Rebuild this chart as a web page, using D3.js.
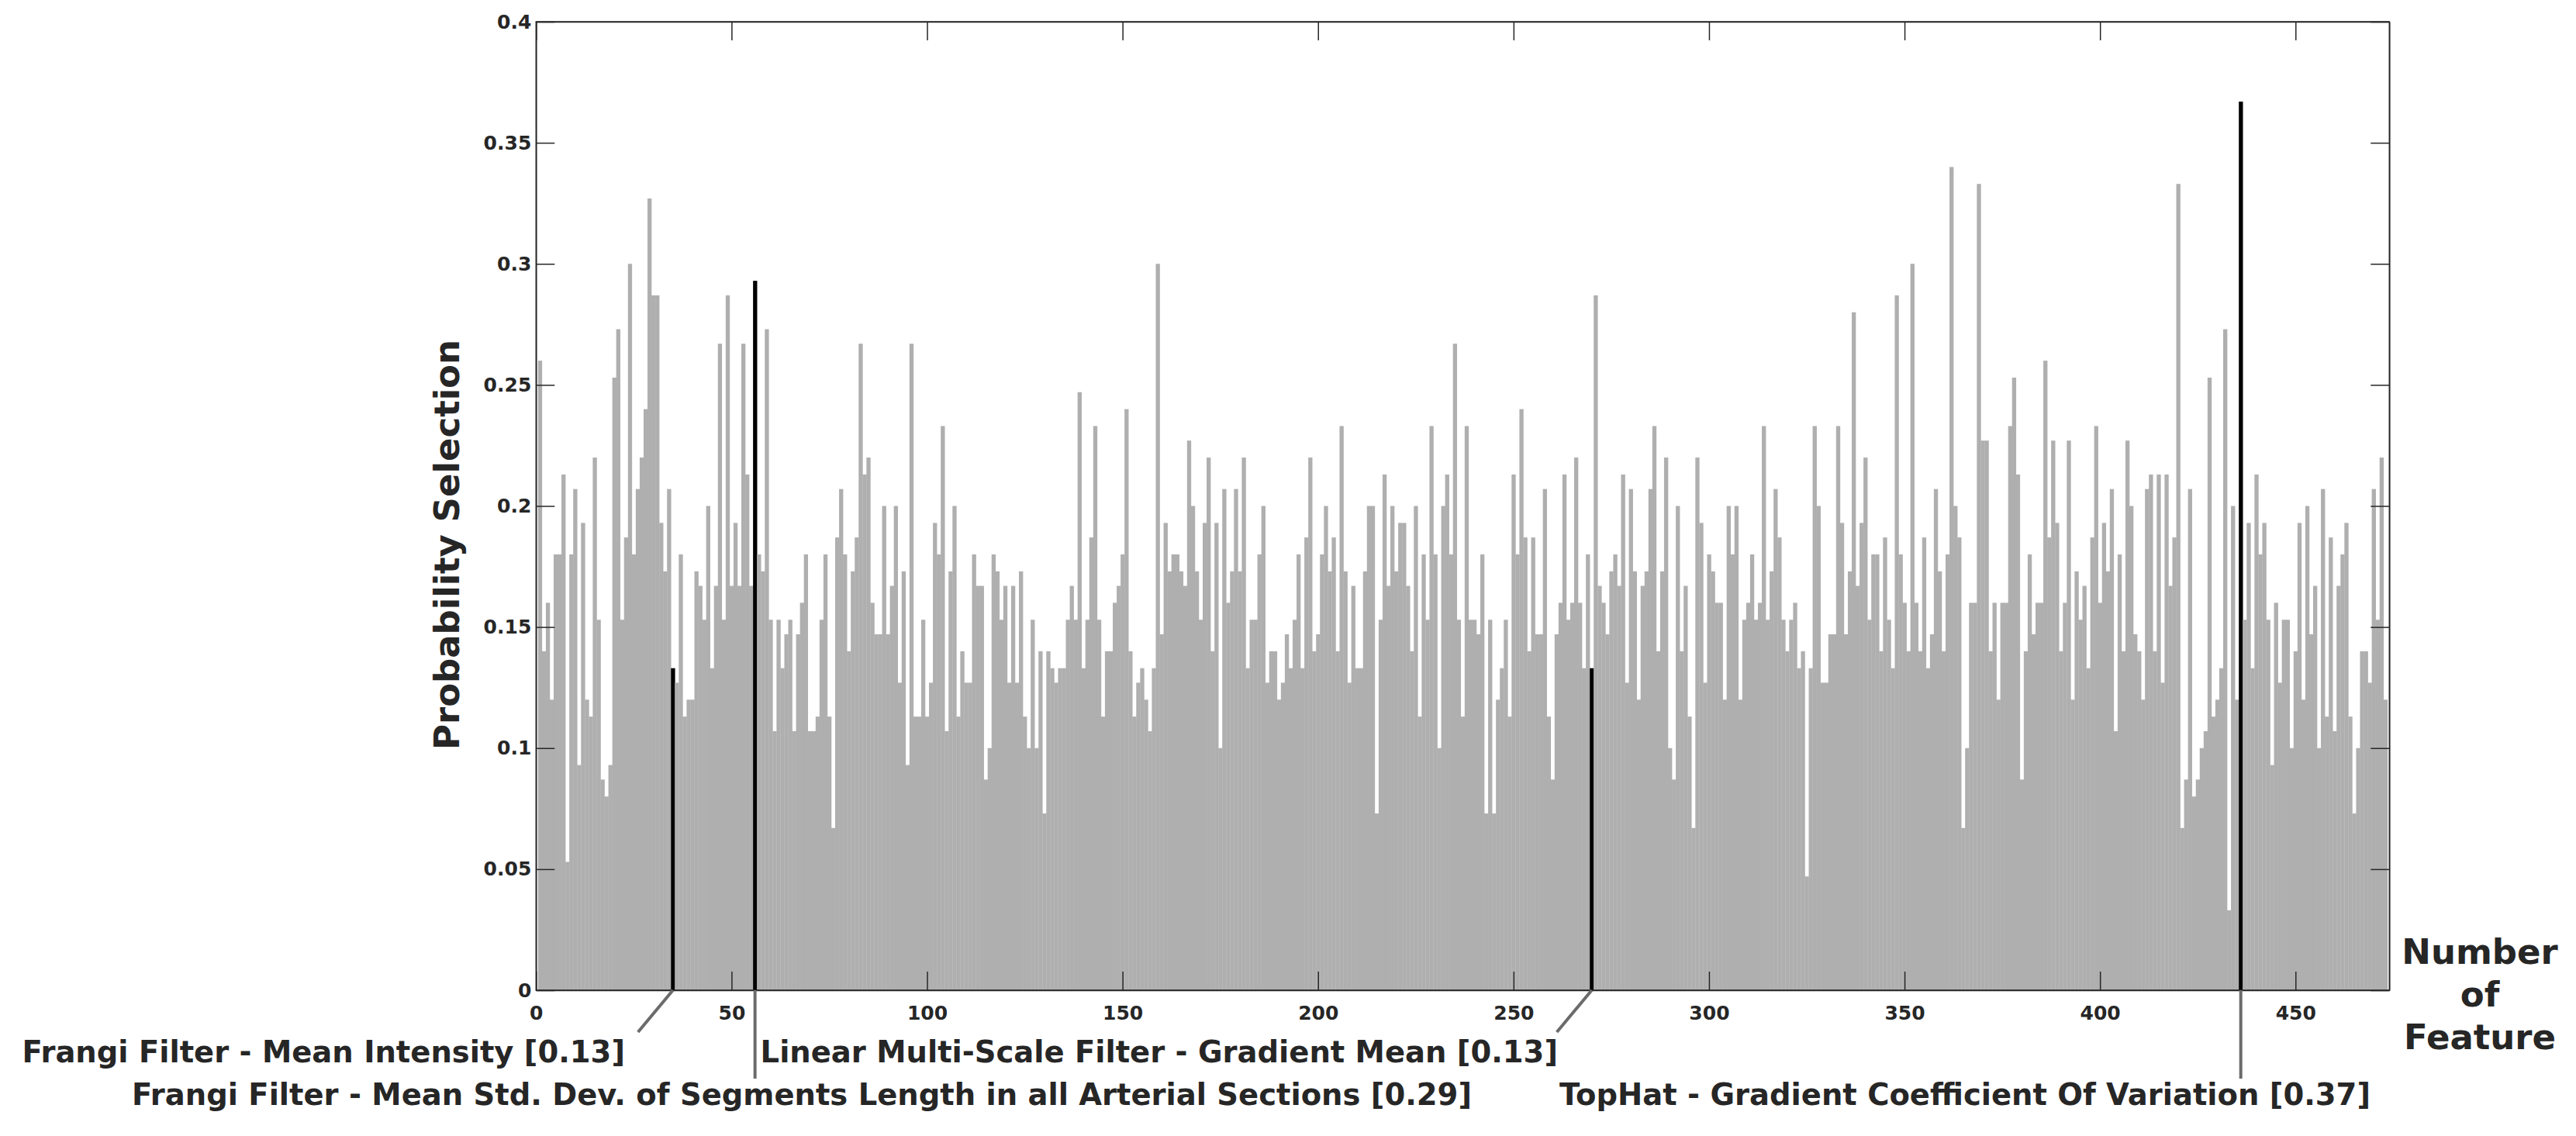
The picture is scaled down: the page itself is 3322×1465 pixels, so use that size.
<!DOCTYPE html>
<html>
<head>
<meta charset="utf-8">
<script src="https://cdn.jsdelivr.net/npm/d3@7"></script>
<style>
html,body{margin:0;padding:0;background:#fff;}
svg{display:block;font-family:"DejaVu Sans",sans-serif;font-weight:bold;}
</style>
</head>
<body>
<svg id="chart" width="3322" height="1465"></svg>
<script>
// ---- data ----
const probability = [
0.260,0.140,0.160,0.120,0.180,0.180,0.213,0.053,0.180,0.207,
0.093,0.193,0.120,0.113,0.220,0.153,0.087,0.080,0.093,0.253,
0.273,0.153,0.187,0.300,0.180,0.207,0.220,0.240,0.327,0.287,
0.287,0.193,0.173,0.207,0.133,0.127,0.180,0.113,0.120,0.120,
0.173,0.167,0.153,0.200,0.133,0.167,0.267,0.153,0.287,0.167,
0.193,0.167,0.267,0.213,0.167,0.293,0.180,0.173,0.273,0.153,
0.107,0.153,0.133,0.147,0.153,0.107,0.147,0.160,0.180,0.107,
0.107,0.113,0.153,0.180,0.113,0.067,0.187,0.207,0.180,0.140,
0.173,0.187,0.267,0.213,0.220,0.160,0.147,0.147,0.200,0.147,
0.167,0.200,0.127,0.173,0.093,0.267,0.113,0.113,0.153,0.113,
0.127,0.193,0.180,0.233,0.107,0.173,0.200,0.113,0.140,0.127,
0.127,0.180,0.167,0.167,0.087,0.100,0.180,0.173,0.153,0.167,
0.127,0.167,0.127,0.173,0.113,0.100,0.153,0.100,0.140,0.073,
0.140,0.133,0.127,0.133,0.133,0.153,0.167,0.153,0.247,0.133,
0.153,0.187,0.233,0.153,0.113,0.140,0.140,0.160,0.167,0.180,
0.240,0.140,0.113,0.127,0.133,0.120,0.107,0.133,0.300,0.147,
0.193,0.173,0.180,0.180,0.173,0.167,0.227,0.200,0.173,0.153,
0.193,0.220,0.140,0.193,0.100,0.207,0.160,0.173,0.207,0.173,
0.220,0.133,0.153,0.153,0.180,0.200,0.127,0.140,0.140,0.120,
0.127,0.147,0.133,0.153,0.180,0.133,0.187,0.220,0.140,0.147,
0.180,0.200,0.173,0.187,0.140,0.233,0.173,0.127,0.167,0.133,
0.133,0.173,0.200,0.200,0.073,0.153,0.213,0.167,0.200,0.173,
0.193,0.193,0.167,0.140,0.200,0.113,0.180,0.153,0.233,0.180,
0.100,0.200,0.213,0.180,0.267,0.153,0.113,0.233,0.153,0.153,
0.147,0.180,0.073,0.153,0.073,0.120,0.133,0.153,0.113,0.213,
0.180,0.240,0.187,0.140,0.187,0.147,0.147,0.207,0.113,0.087,
0.147,0.160,0.213,0.153,0.160,0.220,0.160,0.133,0.180,0.133,
0.287,0.167,0.160,0.147,0.173,0.180,0.167,0.213,0.127,0.207,
0.173,0.120,0.167,0.173,0.207,0.233,0.140,0.173,0.220,0.100,
0.087,0.200,0.140,0.167,0.113,0.067,0.220,0.193,0.127,0.180,
0.173,0.160,0.160,0.120,0.200,0.180,0.200,0.120,0.153,0.160,
0.180,0.153,0.160,0.233,0.153,0.173,0.207,0.187,0.153,0.140,
0.153,0.160,0.133,0.140,0.047,0.133,0.233,0.200,0.127,0.127,
0.147,0.147,0.233,0.193,0.147,0.173,0.280,0.167,0.193,0.220,
0.153,0.180,0.180,0.140,0.187,0.153,0.133,0.287,0.180,0.160,
0.140,0.300,0.160,0.140,0.187,0.133,0.147,0.207,0.173,0.140,
0.180,0.340,0.200,0.187,0.067,0.100,0.160,0.160,0.333,0.227,
0.227,0.140,0.160,0.120,0.160,0.160,0.233,0.253,0.213,0.087,
0.140,0.180,0.147,0.160,0.160,0.260,0.187,0.227,0.193,0.140,
0.160,0.227,0.120,0.173,0.153,0.167,0.133,0.187,0.233,0.160,
0.193,0.173,0.207,0.107,0.180,0.140,0.227,0.200,0.147,0.140,
0.120,0.207,0.213,0.140,0.213,0.127,0.213,0.167,0.187,0.333,
0.067,0.087,0.207,0.080,0.087,0.100,0.107,0.253,0.113,0.120,
0.133,0.273,0.033,0.200,0.120,0.367,0.153,0.193,0.133,0.213,
0.180,0.193,0.153,0.093,0.160,0.127,0.153,0.153,0.100,0.140,
0.193,0.120,0.200,0.147,0.167,0.100,0.207,0.113,0.187,0.107,
0.167,0.180,0.193,0.113,0.073,0.100,0.140,0.140,0.127,0.207,
0.153,0.220,0.120
];
const featureIndex = d3.range(1, probability.length + 1);

const highlightIndex = [35, 56, 270, 436];
const highlightLabel = [
  "Frangi Filter - Mean Intensity [0.13]",
  "Frangi Filter - Mean Std. Dev. of Segments Length in all Arterial Sections [0.29]",
  "Linear Multi-Scale Filter - Gradient Mean [0.13]",
  "TopHat - Gradient Coefficient Of Variation [0.37]"
];

const xTicks = [0, 50, 100, 150, 200, 250, 300, 350, 400, 450];
const yTicks = [0, 0.05, 0.1, 0.15, 0.2, 0.25, 0.3, 0.35, 0.4];
const yTickLabels = ["0", "0.05", "0.1", "0.15", "0.2", "0.25", "0.3", "0.35", "0.4"];
const yTitle = "Probability Selection";
const xTitle = ["Number", "of", "Feature"];

// ---- layout ----
const L = 691.3, R = 3081.3, T = 28, B = 1277;
const svg = d3.select("#chart");
svg.append("rect").attr("width", 3322).attr("height", 1465).attr("fill", "#fff");

const x = d3.scaleLinear().domain([0, 474]).range([L, R]);
const y = d3.scaleLinear().domain([0, 0.4]).range([B, T]);

const axisColor = "#262626";
const tickLen = 24;

// bars
const bw = x(1) - x(0);
svg.append("g").selectAll("rect").data(featureIndex).join("rect")
  .attr("x", d => x(d - 0.5))
  .attr("width", bw + 0.3)
  .attr("y", (d, i) => y(probability[i]))
  .attr("height", (d, i) => y(0) - y(probability[i]))
  .attr("fill", d => highlightIndex.includes(d) ? "#000" : "#afafaf");

// frame
svg.append("rect").attr("x", L).attr("y", T).attr("width", R - L).attr("height", B - T)
  .attr("fill", "none").attr("stroke", axisColor).attr("stroke-width", 1.5);

// axes
const fmtY = d => yTickLabels[yTicks.indexOf(d)];
const gx = svg.append("g").attr("transform", `translate(0,${B})`)
  .call(d3.axisBottom(x).tickValues(xTicks).tickSizeInner(-tickLen).tickSizeOuter(0).tickPadding(20).tickFormat(d3.format("d")));
const gxt = svg.append("g").attr("transform", `translate(0,${T})`)
  .call(d3.axisTop(x).tickValues(xTicks).tickSizeInner(-tickLen).tickSizeOuter(0).tickFormat(""));
const gy = svg.append("g").attr("transform", `translate(${L},0)`)
  .call(d3.axisLeft(y).tickValues(yTicks).tickSizeInner(-tickLen).tickSizeOuter(0).tickPadding(6).tickFormat(fmtY));
const gyr = svg.append("g").attr("transform", `translate(${R},0)`)
  .call(d3.axisRight(y).tickValues(yTicks).tickSizeInner(-tickLen).tickSizeOuter(0).tickFormat(""));
[gx, gxt, gy, gyr].forEach(g => {
  g.select(".domain").attr("stroke", axisColor).attr("stroke-width", 1.5);
  g.selectAll(".tick line").attr("stroke", axisColor).attr("stroke-width", 1.5);
  g.selectAll(".tick text").attr("fill", "#262626")
    .style("font-family", "'DejaVu Sans', sans-serif").style("font-weight", "bold").style("font-size", "25px");
});

// axis titles
svg.append("text").attr("transform", `translate(592,${(T + B) / 2 + 50}) rotate(-90)`)
  .attr("text-anchor", "middle").attr("fill", "#262626").style("font-size", "45px").text(yTitle);
svg.append("g").selectAll("text").data(xTitle).join("text")
  .attr("x", 3198).attr("y", (d, i) => 1243 + i * 55)
  .attr("text-anchor", "middle").attr("fill", "#262626").style("font-size", "45px").text(d => d);

// annotations
const leaderColor = "#6b6b6b";
const ann = [
  {dx: -45, dy: 54, tx: 806, ty: 1370},
  {dx: 0, dy: 114, tx: 1898, ty: 1425},
  {dx: -45, dy: 54, tx: 2009, ty: 1370},
  {dx: 0, dy: 114, tx: 3057, ty: 1425}
];
highlightIndex.forEach((idx, k) => {
  const x0 = x(idx), y0 = y(0);
  svg.append("line").attr("x1", x0).attr("y1", y0).attr("x2", x0 + ann[k].dx).attr("y2", y0 + ann[k].dy)
    .attr("stroke", leaderColor).attr("stroke-width", 4);
  svg.append("text").attr("x", ann[k].tx).attr("y", ann[k].ty).attr("text-anchor", "end")
    .attr("fill", "#262626").style("font-size", "38.5px").text(highlightLabel[k]);
});
</script>
</body>
</html>
